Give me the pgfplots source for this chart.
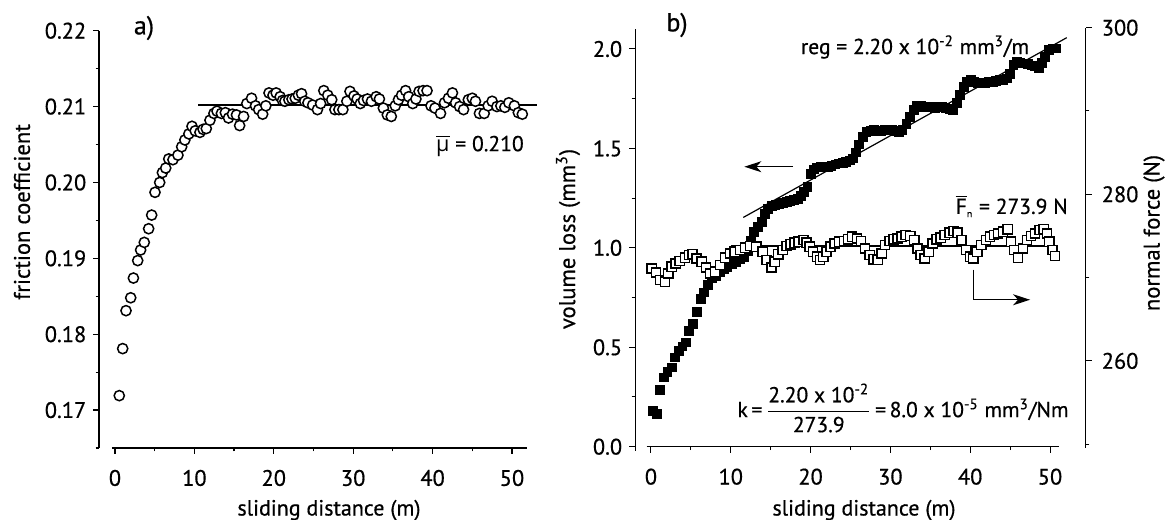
\documentclass[border=0pt]{standalone}
\usepackage{pgfplots}
\pgfplotsset{compat=1.18}
\usepackage{fontspec}
\setmainfont{PT Sans}[RawFeature={embolden=0.6}]
\newfontfamily\grk{Open Sans}
\usetikzlibrary{arrows.meta}

\pgfplotstableread{
x y
0.54 0.1719
0.97 0.1781
1.39 0.1831
1.98 0.1848
2.32 0.1874
2.86 0.1897
3.23 0.1911
3.69 0.1921
4.24 0.1939
4.62 0.1957
5.04 0.1987
5.63 0.2000
5.97 0.2013
6.39 0.2019
6.77 0.2031
7.30 0.2030
7.93 0.2036
8.40 0.2047
8.80 0.2056
9.30 0.2064
9.70 0.2074
10.1 0.2068
10.7 0.2066
11.1 0.2070
11.5 0.2071
11.96 0.2082
12.46 0.2091
12.85 0.2094
13.4 0.2091
13.9 0.2092
14.3 0.2085
14.8 0.2090
15.3 0.2089
15.7 0.2075
16.2 0.2087
16.6 0.2104
17.2 0.2111
17.7 0.2101
18.1 0.2096
18.6 0.2090
19.0 0.2101
19.4 0.2118
19.9 0.2115
20.3 0.2118
20.8 0.2113
21.1 0.2108
21.4 0.2107
21.9 0.2109
22.3 0.2110
22.7 0.2111
23.1 0.2115
23.5 0.2117
23.9 0.2107
24.3 0.2105
24.9 0.2102
25.5 0.2096
25.9 0.2104
26.3 0.2121
26.8 0.2115
27.3 0.2109
27.7 0.2096
28.2 0.2096
28.7 0.2096
29.2 0.2107
29.6 0.2120
30.1 0.2114
30.5 0.2110
30.9 0.2104
31.3 0.2108
31.8 0.2110
32.3 0.2107
32.9 0.2113
33.3 0.2110
33.8 0.2098
34.3 0.2089
34.8 0.2087
35.3 0.2101
35.7 0.2109
36.1 0.2115
36.6 0.2121
37.0 0.2113
37.5 0.2104
37.9 0.2110
38.3 0.2120
38.8 0.2121
39.3 0.2121
39.8 0.2101
40.3 0.2098
41.0 0.2091
41.5 0.2105
42.0 0.2111
42.5 0.2118
42.9 0.2105
43.4 0.2100
43.9 0.2096
44.5 0.2109
45.0 0.2111
45.4 0.2107
45.9 0.2091
46.5 0.2091
47.0 0.2101
47.5 0.2107
48.1 0.2100
48.6 0.2101
49.1 0.2099
49.6 0.2105
50.3 0.2101
50.8 0.2092
51.3 0.2090
}\frictiondata

\pgfplotstableread{
x v
0.29 0.181
0.71 0.164
1.13 0.286
1.63 0.349
2.05 0.377
2.59 0.399
3.00 0.449
3.47 0.482
3.93 0.504
4.39 0.525
4.80 0.583
5.30 0.617
5.72 0.679
6.22 0.742
6.64 0.776
7.18 0.813
7.64 0.847
8.15 0.860
8.65 0.877
9.15 0.893
9.57 0.905
10.1 0.918
10.65 0.930
11.1 0.942
11.6 0.955
12.1 0.985
12.5 1.035
12.9 1.080
13.4 1.105
13.9 1.132
14.3 1.170
14.7 1.194
15.2 1.210
15.6 1.215
16.1 1.220
16.5 1.225
17.0 1.230
17.4 1.237
17.9 1.240
18.4 1.248
18.8 1.260
19.2 1.280
19.6 1.307
20.0 1.370
20.4 1.395
20.8 1.405
21.3 1.410
21.7 1.408
22.2 1.408
22.6 1.412
23.1 1.420
23.5 1.425
24.0 1.428
24.4 1.433
24.9 1.440
25.3 1.450
25.7 1.480
26.1 1.520
26.6 1.559
27.0 1.584
27.5 1.590
27.9 1.592
28.4 1.590
28.8 1.590
29.3 1.592
29.7 1.596
30.2 1.596
30.6 1.590
31.1 1.584
31.5 1.595
32.0 1.625
32.4 1.660
32.9 1.695
33.3 1.712
33.8 1.713
34.2 1.710
34.7 1.708
35.1 1.707
35.6 1.705
36.0 1.707
36.5 1.707
36.9 1.705
37.4 1.700
37.8 1.695
38.3 1.730
38.7 1.770
39.2 1.810
39.6 1.835
40.1 1.845
40.5 1.835
41.0 1.830
41.4 1.830
41.9 1.830
42.3 1.833
42.8 1.836
43.2 1.840
43.7 1.843
44.1 1.846
44.6 1.852
45.0 1.875
45.4 1.920
45.9 1.936
46.3 1.932
46.8 1.928
47.2 1.925
47.7 1.918
48.1 1.912
48.6 1.905
49.0 1.930
49.4 1.961
49.9 1.995
50.3 2.003
50.8 2.003
}\volumedata

\pgfplotstableread{
x F
0.09 271.1
0.63 270.6
1.13 269.7
1.75 269.5
2.17 270.5
2.60 271.3
3.10 271.7
3.60 272.0
4.26 272.4
4.80 272.7
5.20 272.8
5.70 272.3
6.35 271.9
6.90 271.2
7.40 270.5
8.00 270.7
8.65 271.5
9.30 272.4
9.90 272.9
10.5 273.1
11.15 273.3
11.8 273.6
12.4 273.8
13.2 273.7
14.0 273.1
14.5 272.1
15.1 271.2
15.5 271.9
15.95 272.8
16.5 273.3
17.0 273.8
17.5 274.0
18.0 274.2
18.5 274.3
19.1 274.5
19.5 274.2
19.9 273.7
20.3 273.1
20.8 272.5
21.2 272.1
21.6 272.5
22.0 273.1
22.5 273.7
23.0 274.1
23.6 274.3
24.2 274.4
24.7 274.6
25.2 274.9
25.8 274.7
26.3 274.4
26.8 273.5
27.4 272.7
27.9 272.2
28.4 272.1
28.9 272.9
29.3 273.9
29.9 274.4
30.4 274.6
30.9 274.7
31.4 274.9
31.9 275.1
32.5 275.0
33.0 274.5
33.4 273.5
33.8 272.7
34.3 272.3
34.8 273.1
35.3 274.1
35.8 274.6
36.3 274.8
36.8 275.1
37.4 275.4
37.9 275.6
38.4 275.4
38.9 274.5
39.5 273.3
40.0 272.5
40.4 272.3
40.9 273.1
41.4 273.9
42.0 274.5
42.5 274.9
43.0 275.1
43.5 275.3
44.1 275.5
44.7 275.8
45.1 274.3
45.5 273.3
46.0 272.4
46.6 273.5
47.1 274.5
47.6 275.0
48.1 275.3
48.7 275.7
49.2 275.8
49.6 275.3
49.9 274.3
50.3 273.3
50.6 272.6
}\forcedata

\begin{document}
\begin{tikzpicture}
\useasboundingbox (0,0) rectangle (582.5pt,259.5pt);
\pgfplotsset{
  common/.style={
    scale only axis, clip=false,
    axis line style={draw=none},
    tick align=outside,
    tick style={black, line width=0.6pt},
    major tick length=2.9pt, minor tick length=1.7pt,
    xtick pos=bottom, ytick pos=left,
    /pgf/number format/assume math mode=true,
    ticklabel style={font=\fontsize{11.2}{13}\selectfont},
  }
}
% ---------- panel a ----------
\begin{axis}[common, at={(49.55pt,35.5pt)}, anchor=south west,
  width=219.15pt, height=208.65pt,
  xmin=-2, xmax=53.2, ymin=0.165, ymax=0.22,
  xtick={0,10,20,30,40,50}, minor xtick={5,15,25,35,45},
  ytick={0.17,0.18,0.19,0.20,0.21,0.22},
  minor ytick={0.165,0.175,0.185,0.195,0.205,0.215},
  yticklabel style={/pgf/number format/.cd, fixed, fixed zerofill, precision=2},
  xticklabel style={yshift=-4.5pt},
]
\draw[line width=0.7pt] (axis cs:-2,0.165) -- (axis cs:-2,0.22);
\draw[line width=0.7pt] (axis cs:-0.4,0.165) -- (axis cs:51.9,0.165);
\addplot[black, line width=0.6pt] coordinates {(10.5,0.2102) (53.1,0.2102)};
\addplot[only marks, mark=*, mark size=2.55pt,
  mark options={fill=white, draw=black, line width=0.75pt}] table[x=x,y=y] {\frictiondata};
\end{axis}
% ---------- panel b, left axis ----------
\begin{axis}[common, at={(317.5pt,36.15pt)}, anchor=south west,
  width=225.45pt, height=209.5pt,
  xmin=-2, xmax=54.5, ymin=0, ymax=2.1071,
  xtick={0,10,20,30,40,50}, minor xtick={5,15,25,35,45},
  ytick={0,0.5,1,1.5,2}, minor ytick={0.25,0.75,1.25,1.75},
  yticklabel style={/pgf/number format/.cd, fixed, fixed zerofill, precision=1},
  xticklabel style={yshift=-4.5pt},
  tick style={black, line width=0.5pt},
]
\draw[line width=0.5pt] (axis cs:-2,-0.02) -- (axis cs:-2,2.099);
\draw[line width=0.5pt] (axis cs:-0.55,0) -- (axis cs:51.1,0);
\addplot[only marks, mark=square*, mark size=2.2pt,
  mark options={fill=black, draw=black}] table[x=x,y=v] {\volumedata};
\addplot[black, line width=0.6pt] coordinates {(11.57,1.153) (52.1,2.057)};
\draw[line width=0.6pt, -{Stealth[length=8.5pt,width=5.5pt,inset=2.5pt]}]
  (axis cs:17.8,1.408) -- (axis cs:11.7,1.408);
\draw[line width=0.6pt, -{Stealth[length=8.5pt,width=5.5pt,inset=2.5pt]}]
  (axis cs:40.4,0.89) -- (axis cs:40.4,0.739) -- (axis cs:47.5,0.739);
\end{axis}
% ---------- panel b, right axis ----------
\begin{axis}[common, at={(317.5pt,36.15pt)}, anchor=south west,
  width=225.45pt, height=209.5pt,
  xmin=-2, xmax=54.5, ymin=249.70, ymax=300,
  xtick=\empty, ytick pos=right,
  ytick={260,280,300}, minor ytick={250,270,290},
  tick style={black, line width=0.5pt},
  yticklabel style={xshift=1.5pt},
]
\draw[line width=0.5pt] (axis cs:54.5,249.6) -- (axis cs:54.5,300);
\addplot[black, line width=0.6pt] coordinates {(10,273.8) (50.8,273.8)};
\addplot[only marks, mark=square*, mark size=2.3pt,
  mark options={fill=white, draw=black, line width=0.7pt}] table[x=x,y=F] {\forcedata};
\end{axis}
% ---------- text ----------
\begin{scope}[yshift=259.5pt, x=0.5pt, y=-0.5pt]
\node[font=\fontsize{13}{15}\selectfont] at (144,28) {a)};
\node[font=\fontsize{13}{15}\selectfont] at (677,25) {b)};
\node[rotate=90, font=\fontsize{11.3}{13}\selectfont] at (22,212) {friction coefficient};
\node[anchor=base, font=\fontsize{11}{13}\selectfont] at (329,515.5) {sliding distance (m)};
\node[anchor=base, font=\fontsize{11}{13}\selectfont] at (864,515.5) {sliding distance (m)};
\node[rotate=90, font=\fontsize{11.3}{13}\selectfont] at (568,239) {volume loss (mm\textsuperscript{3})};
\node[rotate=90, font=\fontsize{11.3}{13}\selectfont] at (1154,233) {normal force (N)};
\node[font=\fontsize{10.8}{13}\selectfont] at (480,146) {$\overline{\mbox{\grk µ}}$ = 0.210};
\node[font=\fontsize{10.8}{13}\selectfont] at (915,47) {reg = 2.20 x 10\textsuperscript{-2} mm\textsuperscript{3}/m};
\node[font=\fontsize{10.8}{13}\selectfont] at (1011.7,206) {$\overline{\mbox{F}}_{\mbox{\tiny n}}$ = 273.9 N};
\node[font=\fontsize{10.8}{13}\selectfont] at (903,408) {k\,=\,$\displaystyle\frac{\mbox{2.20 x 10\textsuperscript{-2}}}{\mbox{273.9}}$\,=\,8.0 x 10\textsuperscript{-5} mm\textsuperscript{3}/Nm};
\end{scope}
\end{tikzpicture}
\end{document}
